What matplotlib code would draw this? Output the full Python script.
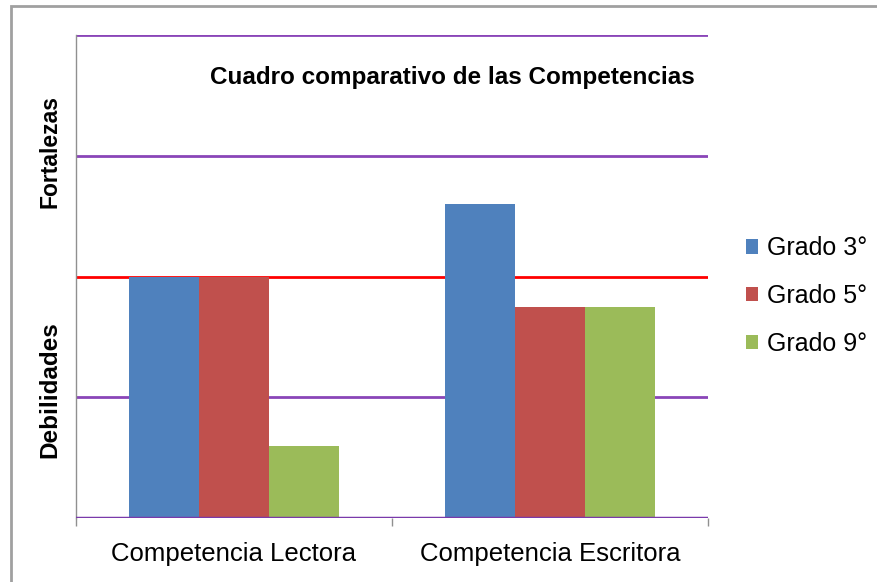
import matplotlib
matplotlib.use('Agg')
import matplotlib.pyplot as plt
import numpy as np

# data (scale 0-4, red line = 2)
categorias = ['Competencia Lectora', 'Competencia Escritora']
grados = ['Grado 3°', 'Grado 5°', 'Grado 9°']
grado3 = [2.0, 2.6]
grado5 = [2.0, 1.75]
grado9 = [0.6, 1.75]
colores = ['#4F81BD', '#C0504D', '#9BBB59']

plt.rcParams['font.family'] = ['Liberation Sans', 'DejaVu Sans']

fig = plt.figure(figsize=(8.78, 5.82), dpi=100)
ax = fig.add_axes([76/878, 64/582, 632/878, 483/582])

# gray frame round the chart area
fig.patches.append(plt.Rectangle((11/878, -0.1), 1.2, (576/582) + 0.1, transform=fig.transFigure,
                                 fill=False, edgecolor='#A0A0A0', linewidth=2))

x = np.arange(len(categorias))
w = 0.222
series = [grado3, grado5, grado9]
for i, (vals, col, lab) in enumerate(zip(series, colores, grados)):
    ax.bar(x + (i - 1) * w, vals, w, color=col, label=lab, zorder=3)

# purple gridlines, red "middle" line
for yv in [1, 3, 4]:
    ax.axhline(yv, color='#8A45B8', linewidth=2, zorder=2)
ax.axhline(2, color='#FF0000', linewidth=2, zorder=2)
ax.axhline(0, color='#7A3AAA', linewidth=2.5, zorder=4)

ax.set_xlim(-0.5, 1.5)
ax.set_ylim(0, 4)
ax.set_yticks([])
ax.set_xticks([-0.5, 0.5, 1.5], minor=False)
ax.set_xticklabels(['', '', ''])
ax.tick_params(axis='x', length=6, color='#909090', width=1)
ax.set_xticks(x, minor=True)
ax.set_xticklabels(categorias, minor=True, fontsize=18.5)
ax.tick_params(axis='x', which='minor', length=0, pad=17)

for s in ['top', 'right', 'bottom']:
    ax.spines[s].set_visible(False)
ax.spines['left'].set_color('#909090')
ax.spines['left'].set_linewidth(1)

ax.text(0.596, 0.912, 'Cuadro comparativo de las Competencias', transform=ax.transAxes,
        ha='center', va='center', fontsize=17.5, fontweight='bold')

fig.text(50/878, 1 - 152/582, 'Fortalezas', rotation=90, ha='center', va='center',
         fontsize=16.5, fontweight='bold')
fig.text(50/878, 1 - 390/582, 'Debilidades', rotation=90, ha='center', va='center',
         fontsize=17.5, fontweight='bold')

leg = fig.legend(loc='center left', bbox_to_anchor=(746/878, 1 - 296/582), frameon=False,
                 fontsize=18, handlelength=0.5, handleheight=0.5, handletextpad=0.35,
                 labelspacing=0.95, borderpad=0, borderaxespad=0)

fig.savefig('out.png', dpi=100)
